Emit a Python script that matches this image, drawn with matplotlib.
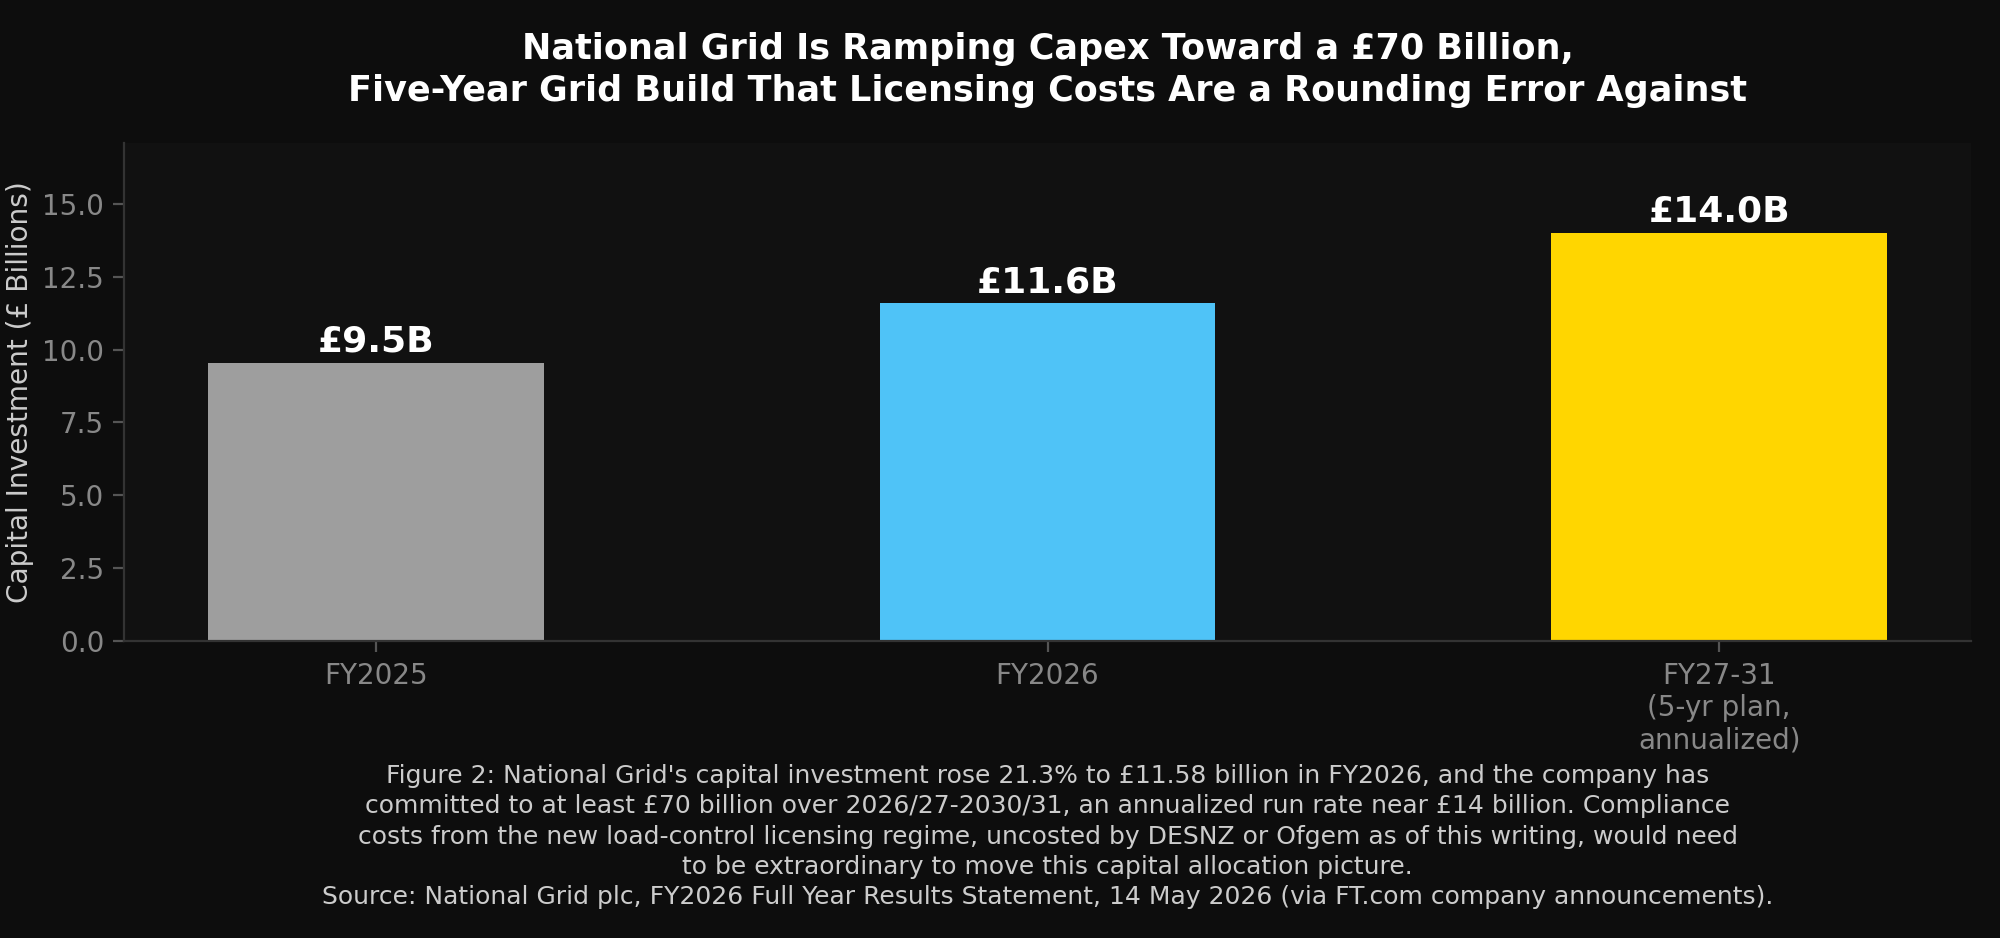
import matplotlib
matplotlib.use("Agg")
import matplotlib.pyplot as plt

categories = ["FY2025", "FY2026", "FY27-31\n(5-yr plan,\nannualized)"]
values = [9.55, 11.58, 14.0]
labels = ["£9.5B", "£11.6B", "£14.0B"]
colors = ["#9e9e9e", "#4fc3f7", "#ffd600"]

title = ("National Grid Is Ramping Capex Toward a £70 Billion,\n"
         "Five-Year Grid Build That Licensing Costs Are a Rounding Error Against")
caption = ("Figure 2: National Grid's capital investment rose 21.3% to £11.58 billion in FY2026, and the company has\n"
           "committed to at least £70 billion over 2026/27-2030/31, an annualized run rate near £14 billion. Compliance\n"
           "costs from the new load-control licensing regime, uncosted by DESNZ or Ofgem as of this writing, would need\n"
           "to be extraordinary to move this capital allocation picture.\n"
           "Source: National Grid plc, FY2026 Full Year Results Statement, 14 May 2026 (via FT.com company announcements).")

plt.rcParams['font.family'] = ['DejaVu Sans']
fig = plt.figure(figsize=(10, 4.69), dpi=200, facecolor="#0d0d0d")
ax = fig.add_axes([0.062, 0.3165, 0.9235, 0.531])
ax.set_facecolor("#111111")

x = range(len(categories))
bars = ax.bar(x, values, width=0.5, color=colors)
for xi, v, lab in zip(x, values, labels):
    ax.text(xi, v + 0.15, lab, ha="center", va="bottom", color="white",
            fontsize=13, fontweight="bold")

ax.set_ylim(0, 14.0 * 1.22)
ax.set_xticks(list(x))
ax.set_xticklabels(categories)
ax.set_yticks([0, 2.5, 5, 7.5, 10, 12.5, 15])
ax.set_yticklabels(["0.0", "2.5", "5.0", "7.5", "10.0", "12.5", "15.0"])
ax.tick_params(colors="#888888", labelsize=10, length=4, width=0.8)
ax.tick_params(axis='both', color="#555555")
ax.tick_params(axis='y', pad=3.2)
for s in ["top", "right"]:
    ax.spines[s].set_visible(False)
for s in ["left", "bottom"]:
    ax.spines[s].set_color("#333333")
ax.set_ylabel("Capital Investment (£ Billions)", color="#cccccc", fontsize=10.1,
              labelpad=3.0)
ax.set_title(title, color="white", fontsize=12.6, fontweight="bold", pad=15,
             linespacing=1.3)

ax.text(0.5, -0.247, caption, transform=ax.transAxes, ha="center", va="top",
        color="#cccccc", fontsize=9, linespacing=1.33)

fig.savefig("out.png", dpi=200, facecolor=fig.get_facecolor())
